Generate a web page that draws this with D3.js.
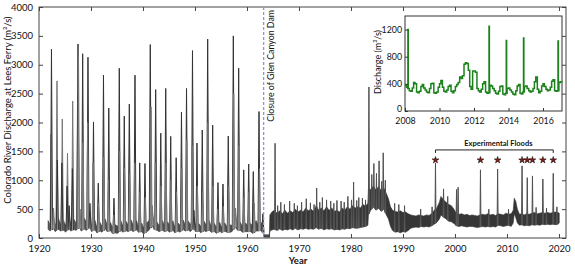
<!DOCTYPE html>
<html>
<head>
<meta charset="utf-8">
<script src="https://cdn.jsdelivr.net/npm/d3@7"></script>
<style>
  body { margin: 0; background: #fff; }
  svg text { font-family: Lato, "Open Sans", sans-serif; fill: #111; }
</style>
</head>
<body>
<div id="chart"></div>
<script>
// tick labels
var xTicks = [1920, 1930, 1940, 1950, 1960, 1970, 1980, 1990, 2000, 2010, 2020];
var yTicks = [0, 500, 1000, 1500, 2000, 2500, 3000, 3500, 4000];
var insetXTicks = [2008, 2010, 2012, 2014, 2016];
var insetYTicks = [0, 400, 800, 1200];

var damYear = 1963.2;
var floodYears = [1996.25, 2004.9, 2008.2, 2012.9, 2013.9, 2014.9, 2016.9, 2018.9];

// daily fluctuation envelope before the dam: [year, low, high] (m3/s)
var preBand = [
  [1921.75, 150, 300], [1922.1, 120, 230], [1922.75, 170, 380], [1923.1, 110, 220], [1923.75, 160, 340],
  [1924.1, 120, 240], [1924.75, 140, 300], [1925.1, 100, 210], [1925.75, 170, 430], [1926.1, 120, 250],
  [1926.75, 150, 320], [1927.1, 130, 260], [1927.8, 190, 420], [1928.1, 120, 240], [1928.75, 160, 340],
  [1929.1, 130, 270], [1929.75, 190, 470], [1930.1, 110, 220], [1930.75, 150, 310], [1931.1, 90, 190],
  [1931.75, 120, 270], [1932.1, 100, 200], [1932.75, 160, 330], [1933.1, 110, 220], [1933.75, 130, 270],
  [1934.1, 80, 180], [1934.75, 90, 230], [1935.1, 80, 200], [1935.75, 140, 300], [1936.1, 100, 210],
  [1936.75, 130, 290], [1937.1, 110, 230], [1937.75, 140, 310], [1938.1, 110, 220], [1938.75, 150, 300],
  [1939.1, 100, 200], [1939.75, 110, 260], [1940.1, 70, 170], [1940.75, 110, 270], [1941.1, 130, 290],
  [1941.75, 220, 470], [1942.1, 150, 290], [1942.75, 130, 270], [1943.1, 110, 210], [1943.75, 140, 300],
  [1944.1, 110, 220], [1944.75, 130, 280], [1945.1, 100, 210], [1945.75, 140, 300], [1946.1, 90, 190],
  [1946.75, 120, 260], [1947.1, 100, 220], [1947.75, 150, 310], [1948.1, 120, 230], [1948.75, 140, 290],
  [1949.1, 110, 230], [1949.75, 170, 360], [1950.1, 110, 220], [1950.75, 120, 250], [1951.1, 90, 200],
  [1951.75, 130, 290], [1952.1, 110, 230], [1952.75, 140, 300], [1953.1, 100, 200], [1953.75, 110, 250],
  [1954.1, 80, 180], [1954.75, 120, 270], [1955.1, 90, 180], [1955.75, 120, 260], [1956.1, 100, 200],
  [1956.75, 100, 230], [1957.1, 110, 210], [1957.75, 200, 430], [1958.1, 140, 260], [1958.75, 130, 270],
  [1959.1, 100, 200], [1959.75, 110, 260], [1960.1, 110, 210], [1960.75, 110, 250], [1961.1, 80, 190],
  [1961.75, 120, 300], [1962.1, 120, 230], [1962.75, 130, 270], [1963.0, 110, 220], [1963.2, 60, 160],
  [1963.25, 15, 55], [1964.3, 15, 55]
];

// envelope after closure
var postBand = [
  [1964.3, 15, 55], [1964.4, 120, 400], [1964.8, 140, 450], [1965.2, 150, 480], [1965.8, 130, 430],
  [1966.3, 160, 470], [1966.8, 130, 420], [1967.3, 150, 480], [1967.8, 140, 430], [1968.3, 160, 470],
  [1968.8, 140, 440], [1969.3, 170, 500], [1969.8, 140, 450], [1970.3, 160, 480], [1970.8, 150, 450],
  [1971.3, 170, 520], [1971.8, 150, 470], [1972.3, 160, 500], [1972.8, 150, 460], [1973.3, 180, 560],
  [1973.8, 150, 480], [1974.3, 170, 520], [1974.8, 140, 470], [1975.3, 160, 540], [1975.8, 150, 480],
  [1976.3, 160, 520], [1976.8, 140, 460], [1977.3, 150, 480], [1977.8, 140, 450], [1978.3, 160, 520],
  [1978.8, 150, 480], [1979.3, 170, 540], [1979.8, 160, 500], [1980.3, 180, 560], [1980.8, 170, 520],
  [1981.3, 170, 540], [1981.8, 180, 520], [1982.3, 190, 580], [1982.8, 200, 550], [1983.25, 220, 600],
  [1983.35, 400, 860], [1983.8, 480, 840], [1984.3, 540, 900], [1984.8, 480, 830], [1985.3, 520, 890],
  [1985.8, 460, 820], [1986.3, 500, 870], [1986.8, 400, 770], [1987.2, 330, 680], [1987.6, 200, 540],
  [1988.0, 130, 480], [1988.5, 100, 460], [1989.0, 110, 450], [1989.5, 90, 470], [1990.0, 110, 440],
  [1990.5, 100, 450], [1991.0, 130, 420], [1991.5, 170, 400], [1992.0, 180, 390], [1992.5, 190, 380],
  [1993.0, 180, 400], [1993.5, 200, 390], [1994.0, 190, 380], [1994.5, 200, 400], [1995.0, 190, 390],
  [1995.5, 210, 420], [1996.0, 240, 480], [1996.5, 270, 520], [1997.0, 330, 620], [1997.3, 400, 720],
  [1997.8, 360, 660], [1998.3, 330, 620], [1998.8, 290, 580], [1999.3, 280, 560], [1999.8, 250, 500],
  [2000.3, 210, 420], [2000.8, 200, 410], [2001.3, 210, 420], [2001.8, 200, 400], [2002.3, 190, 410],
  [2002.8, 200, 390], [2003.3, 200, 400], [2003.8, 190, 390], [2004.3, 180, 380], [2004.8, 190, 400],
  [2005.3, 200, 410], [2005.8, 190, 400], [2006.3, 200, 420], [2006.8, 190, 400], [2007.3, 200, 410],
  [2007.8, 190, 390], [2008.3, 220, 420], [2008.8, 210, 410], [2009.3, 200, 400], [2009.8, 210, 430],
  [2010.3, 220, 410], [2010.8, 200, 420], [2011.2, 260, 480], [2011.4, 420, 690], [2011.7, 350, 630],
  [2012.0, 260, 500], [2012.4, 220, 410], [2012.8, 230, 420], [2013.3, 210, 400], [2013.8, 220, 420],
  [2014.3, 210, 410], [2014.8, 230, 430], [2015.3, 220, 440], [2015.8, 230, 420], [2016.3, 220, 430],
  [2016.8, 240, 440], [2017.3, 230, 430], [2017.8, 240, 440], [2018.3, 230, 430], [2018.8, 240, 440],
  [2019.3, 230, 450], [2019.8, 240, 440], [2020.05, 260, 430]
];

// spring snowmelt peaks and secondary rises: [year, peak]
var preSpikes = [
  [1922.32, 1800], [1922.40, 3270], [1923.46, 2720], [1923.52, 1350], [1924.48, 2060], [1924.40, 1300],
  [1925.48, 1470], [1925.40, 900], [1926.48, 2370], [1926.42, 1200], [1927.42, 2500], [1927.50, 3360],
  [1927.60, 3120], [1928.40, 3190], [1928.46, 1650], [1929.42, 3130], [1929.36, 2000], [1930.48, 2010],
  [1930.40, 1300], [1931.40, 950], [1931.46, 600], [1932.40, 2820], [1932.46, 1400], [1933.42, 2250],
  [1933.36, 1000], [1934.42, 690], [1934.36, 400], [1935.44, 2940], [1935.50, 1500], [1936.40, 2110],
  [1936.46, 1200], [1937.37, 2320], [1937.43, 1100], [1938.46, 2820], [1938.40, 1300], [1939.37, 1300],
  [1939.43, 800], [1940.38, 1290], [1940.44, 700], [1941.40, 3350], [1941.55, 2270], [1942.44, 2570],
  [1942.38, 1300], [1943.42, 1815], [1943.48, 900], [1944.37, 2590], [1944.43, 1300], [1945.33, 1760],
  [1945.40, 1000], [1946.38, 1390], [1946.44, 800], [1947.40, 2180], [1947.46, 1200], [1948.37, 2590],
  [1948.43, 1700], [1949.52, 3245], [1949.44, 1600], [1950.38, 1645], [1950.44, 900], [1951.40, 1870],
  [1951.46, 800], [1952.44, 3445], [1952.50, 2000], [1953.40, 1955], [1953.46, 900], [1954.42, 960],
  [1954.36, 500], [1955.38, 935], [1955.44, 550], [1956.40, 1765], [1956.46, 900], [1957.37, 3500],
  [1957.45, 2500], [1958.40, 2940], [1958.46, 1600], [1959.37, 1180], [1959.43, 700], [1960.33, 1280],
  [1960.40, 800], [1961.21, 1150], [1961.40, 600], [1962.31, 2190], [1962.40, 1200], [1963.05, 420],
  [1922.8, 520], [1925.8, 560], [1927.9, 500], [1929.8, 600], [1941.8, 560], [1949.8, 480], [1957.8, 520]
];

// post-dam releases, spills and experimental floods
var postSpikes = [
  [1965.4, 1640], [1965.9, 560], [1966.5, 620], [1967.2, 580], [1968.2, 640], [1969.1, 600],
  [1969.7, 560], [1970.5, 620], [1971.4, 680], [1972.2, 610], [1972.9, 580], [1973.4, 865],
  [1974.0, 620], [1974.5, 700], [1975.3, 660], [1976.1, 640], [1976.7, 600], [1977.3, 650],
  [1978.1, 640], [1978.7, 620], [1979.4, 720], [1980.1, 660], [1980.5, 970], [1981.1, 650],
  [1981.5, 700], [1982.2, 690], [1982.8, 660], [1983.45, 2615], [1984.0, 1100], [1984.4, 1290],
  [1984.9, 1120], [1985.4, 1335], [1985.9, 980], [1986.2, 1475], [1986.6, 1000], [1988.4, 600],
  [1989.2, 580], [1990.3, 560], [1993.4, 500], [1995.6, 540], [1996.25, 1300], [1997.8, 850],
  [1998.6, 720], [2000.3, 840], [2000.6, 880], [2004.9, 1180], [2006.5, 500], [2008.2, 1195],
  [2010.3, 500], [2012.9, 1250], [2013.9, 1045], [2014.9, 1075], [2015.6, 530], [2016.9, 1020],
  [2017.6, 520], [2018.9, 1120], [2019.6, 540]
];

// inset, monthly release steps 2008-2017 with flood pulses
var insetFlow = [
  [2008.0, 380], [2008.08, 350], [2008.16, 330], [2008.17, 1200], [2008.19, 330], [2008.25, 300], [2008.33, 290],
  [2008.42, 340], [2008.5, 420], [2008.58, 400], [2008.67, 280], [2008.75, 270], [2008.83, 290], [2008.92, 360],
  [2009.0, 390], [2009.08, 340], [2009.17, 310], [2009.25, 280], [2009.33, 270], [2009.42, 330], [2009.5, 400],
  [2009.58, 410], [2009.67, 270], [2009.75, 260], [2009.83, 280], [2009.92, 350],
  [2010.0, 400], [2010.08, 450], [2010.17, 350], [2010.25, 290], [2010.33, 280], [2010.42, 310], [2010.5, 360],
  [2010.58, 380], [2010.67, 290], [2010.75, 270], [2010.83, 300], [2010.92, 360],
  [2011.0, 390], [2011.08, 420], [2011.17, 500], [2011.25, 480], [2011.33, 520], [2011.42, 690], [2011.5, 710],
  [2011.58, 700], [2011.67, 600], [2011.75, 360], [2011.83, 320], [2011.92, 590],
  [2012.0, 590], [2012.08, 570], [2012.17, 330], [2012.25, 300], [2012.33, 280], [2012.42, 320], [2012.5, 400],
  [2012.58, 430], [2012.67, 280], [2012.75, 260], [2012.83, 270], [2012.87, 1250], [2012.89, 270], [2012.92, 380],
  [2013.0, 370], [2013.08, 330], [2013.17, 300], [2013.25, 260], [2013.33, 250], [2013.42, 290], [2013.5, 360],
  [2013.58, 370], [2013.67, 250], [2013.75, 240], [2013.83, 260], [2013.87, 1040], [2013.89, 260], [2013.92, 330],
  [2014.0, 340], [2014.08, 310], [2014.17, 280], [2014.25, 250], [2014.33, 240], [2014.42, 300], [2014.5, 370],
  [2014.58, 390], [2014.67, 260], [2014.75, 250], [2014.83, 280], [2014.87, 1075], [2014.89, 280], [2014.92, 360],
  [2015.0, 370], [2015.08, 330], [2015.17, 300], [2015.25, 280], [2015.33, 290], [2015.42, 330], [2015.5, 430],
  [2015.58, 500], [2015.67, 320], [2015.75, 270], [2015.83, 290], [2015.92, 370],
  [2016.0, 400], [2016.08, 360], [2016.17, 320], [2016.25, 300], [2016.33, 310], [2016.42, 350], [2016.5, 440],
  [2016.58, 460], [2016.67, 300], [2016.75, 290], [2016.83, 300], [2016.87, 1030], [2016.89, 300], [2016.92, 420],
  [2017.0, 430], [2017.1, 440]
];

(function () {
    "use strict";

    var width = 575,
        height = 268,
        m = {left: 39, right: 9, top: 7, bottom: 30};

    var svg = d3.select('#chart').append('svg')
        .attr('width', width)
        .attr('height', height);

    var x = d3.scaleLinear().domain([1920, 2021.35]).range([m.left, width - m.right]),
        y = d3.scaleLinear().domain([0, 4000]).range([height - m.bottom, m.top]);

    // linear lookup of the band floor, so spikes start from the flow level
    function floorAt(rows, t) {
        var i = d3.bisector(function (d) { return d[0]; }).left(rows, t);
        if (i <= 0) return rows[0][1];
        if (i >= rows.length) return rows[rows.length - 1][1];
        var a = rows[i - 1], b = rows[i], f = (t - a[0]) / (b[0] - a[0]);
        return a[1] + f * (b[1] - a[1]);
    }

    var area = d3.area()
        .x(function (d) { return x(d[0]); })
        .y0(function (d) { return y(d[1]); })
        .y1(function (d) { return y(d[2]); });

    var plot = svg.append('g');

    plot.append('path')
        .datum(preBand)
        .attr('d', area)
        .attr('fill', '#505050')
        .attr('stroke', '#333')
        .attr('stroke-width', 0.6);

    plot.append('path')
        .datum(postBand)
        .attr('d', area)
        .attr('fill', '#363636')
        .attr('stroke', '#333')
        .attr('stroke-width', 0.6);

    function spikePath(rows, halfW) {
        return function (d) {
            var base = floorAt(rows, d[0]);
            return 'M' + x(d[0] - halfW) + ',' + y(base) +
                'L' + x(d[0]) + ',' + y(d[1]) +
                'L' + x(d[0] + halfW) + ',' + y(base);
        };
    }

    plot.selectAll('path.pre')
        .data(preSpikes)
        .enter().append('path')
        .attr('class', 'pre')
        .attr('d', spikePath(preBand, 0.2))
        .attr('fill', '#9a9a9a')
        .attr('stroke', function (d, i) { return i % 2 ? '#333' : '#777'; })
        .attr('stroke-width', 1);

    plot.selectAll('path.post')
        .data(postSpikes)
        .enter().append('path')
        .attr('class', 'post')
        .attr('d', spikePath(postBand, 0.1))
        .attr('fill', '#888')
        .attr('stroke', '#505050')
        .attr('stroke-width', 1);

    // axes, ticks pointing inward on all four sides
    svg.append('g').attr('transform', 'translate(0,' + y(0) + ')')
        .call(d3.axisBottom(x).tickValues(xTicks).tickFormat(d3.format('d'))
            .tickSizeInner(-4).tickSizeOuter(0).tickPadding(7));
    svg.append('g').attr('transform', 'translate(0,' + y(4000) + ')')
        .call(d3.axisTop(x).tickValues(xTicks).tickFormat('').tickSizeInner(-4).tickSizeOuter(0));
    svg.append('g').attr('transform', 'translate(' + x.range()[0] + ',0)')
        .call(d3.axisLeft(y).tickValues(yTicks).tickFormat(d3.format('d'))
            .tickSizeInner(-4).tickSizeOuter(0).tickPadding(6));
    svg.append('g').attr('transform', 'translate(' + x.range()[1] + ',0)')
        .call(d3.axisRight(y).tickValues(yTicks).tickFormat('').tickSizeInner(-4).tickSizeOuter(0));

    svg.selectAll('.domain').remove();
    svg.selectAll('.tick line').attr('stroke', '#444');
    svg.selectAll('.tick text').attr('font-size', '9.5px').attr('font-family', 'Lato, sans-serif').attr('fill', '#111');

    svg.append('rect')
        .attr('x', x.range()[0]).attr('y', y(4000))
        .attr('width', x.range()[1] - x.range()[0]).attr('height', y(0) - y(4000))
        .attr('fill', 'none').attr('stroke', '#444').attr('stroke-width', 1);

    svg.append('text')
        .attr('transform', 'translate(11,' + 110 + ') rotate(-90)')
        .attr('text-anchor', 'middle')
        .attr('font-size', '9.5px')
        .text('Colorado River Discharge at Lees Ferry (m\u00b3/s)');

    svg.append('text')
        .attr('x', 298).attr('y', 264)
        .attr('text-anchor', 'middle')
        .attr('font-size', '9.5px')
        .attr('font-weight', 'bold')
        .text('Year');

    // dam closure
    svg.append('line')
        .attr('x1', x(damYear)).attr('x2', x(damYear))
        .attr('y1', y(4000)).attr('y2', y(0))
        .attr('stroke', '#8f93e6')
        .attr('stroke-width', 1.3)
        .attr('stroke-dasharray', '3,2');

    svg.append('text')
        .attr('transform', 'translate(' + (x(damYear) + 10) + ',' + 10 + ') rotate(-90)')
        .attr('text-anchor', 'end')
        .attr('font-size', '8.8px')
        .text('Closure of Glen Canyon Dam');

    // experimental floods bracket and stars
    var bY = y(1525), sY = y(1350);
    svg.append('path')
        .attr('d', 'M' + x(floodYears[0]) + ',' + (bY + 3) + 'V' + bY +
            'H' + x(floodYears[floodYears.length - 1]) + 'V' + (bY + 3))
        .attr('fill', 'none').attr('stroke', '#222').attr('stroke-width', 1);
    svg.append('text')
        .attr('x', x(d3.mean([floodYears[0], floodYears[floodYears.length - 1]])) + 4)
        .attr('y', bY - 4)
        .attr('text-anchor', 'middle')
        .attr('font-size', '7.5px')
        .attr('font-weight', 'bold')
        .text('Experimental Floods');
    svg.selectAll('path.star')
        .data(floodYears)
        .enter().append('path')
        .attr('class', 'star')
        .attr('d', d3.symbol().type(d3.symbolStar).size(14))
        .attr('transform', function (d) { return 'translate(' + x(d) + ',' + sY + ')'; })
        .attr('fill', '#8e1a12')
        .attr('stroke', '#111')
        .attr('stroke-width', 0.6);

    // inset 2008-2017
    var ix = d3.scaleLinear().domain([2008, 2017.1]).range([405, 562]),
        iy = d3.scaleLinear().domain([0, 1400]).range([111, 16]);

    var inset = svg.append('g');
    inset.append('rect')
        .attr('x', 405).attr('y', 16).attr('width', 157).attr('height', 95)
        .attr('fill', '#fff').attr('stroke', '#333').attr('stroke-width', 1);

    inset.append('path')
        .datum(insetFlow)
        .attr('d', d3.line().curve(d3.curveStepAfter)
            .x(function (d) { return ix(d[0]); })
            .y(function (d) { return iy(d[1]); }))
        .attr('fill', 'none')
        .attr('stroke', '#1c821c')
        .attr('stroke-width', 1.5);

    inset.append('g').attr('transform', 'translate(0,111)')
        .call(d3.axisBottom(ix).tickValues(insetXTicks).tickFormat(d3.format('d'))
            .tickSizeInner(-3).tickSizeOuter(0).tickPadding(7));
    var iyAxis = inset.append('g').attr('transform', 'translate(405,0)')
        .call(d3.axisLeft(iy).tickValues(insetYTicks).tickFormat(d3.format('d'))
            .tickSizeInner(-3).tickSizeOuter(0).tickPadding(3));
    // lift the zero label a touch so it clears the 2008 label
    iyAxis.selectAll('.tick text').filter(function (d) { return d === 0; }).attr('dy', '0.1em');
    inset.selectAll('.domain').remove();
    inset.selectAll('.tick line').attr('stroke', '#333');
    inset.selectAll('.tick text').attr('font-size', '8.8px').attr('font-family', 'Lato, sans-serif').attr('fill', '#111');

    inset.append('text')
        .attr('transform', 'translate(381,62) rotate(-90)')
        .attr('text-anchor', 'middle')
        .attr('font-size', '9px')
        .text('Discharge (m\u00b3/s)');
}());
</script>
</body>
</html>
